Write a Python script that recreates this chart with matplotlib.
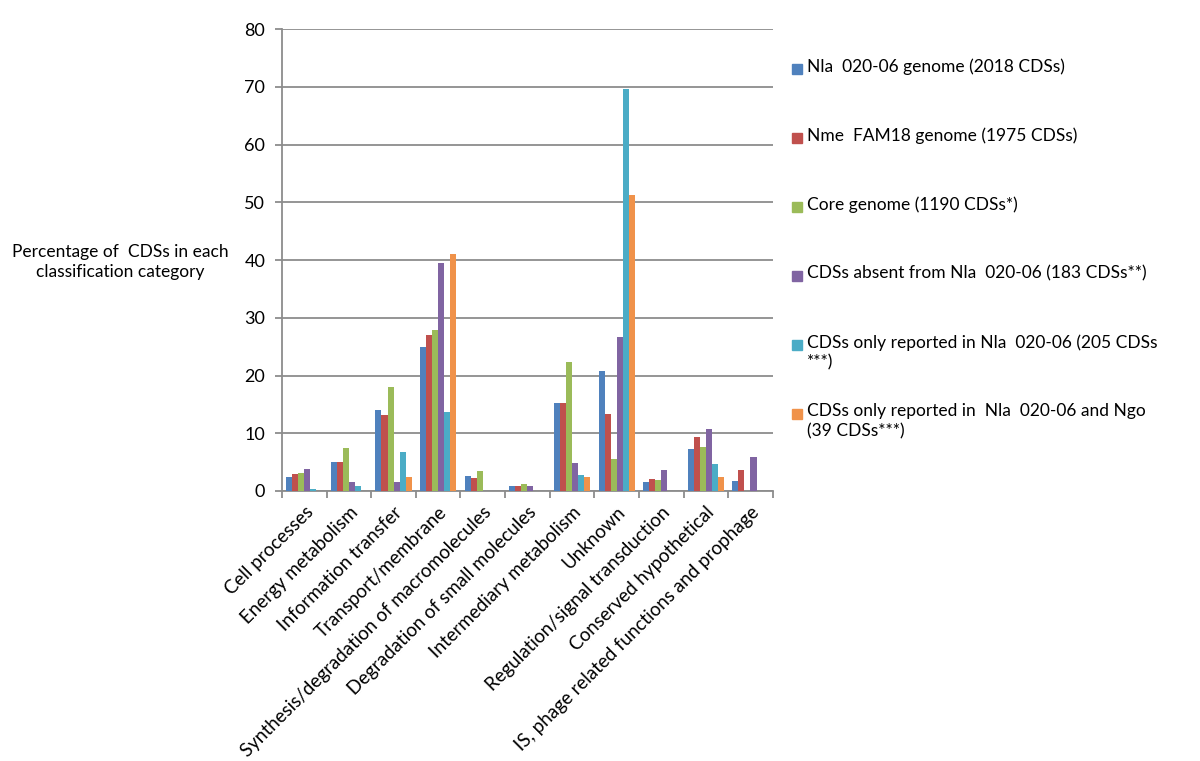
import matplotlib
matplotlib.use('Agg')
import matplotlib.pyplot as plt
import numpy as np
from matplotlib.patches import Rectangle

categories = ['Cell processes', 'Energy metabolism', 'Information transfer', 'Transport/membrane',
              'Synthesis/degradation of macromolecules', 'Degradation of small molecules',
              'Intermediary metabolism', 'Unknown', 'Regulation/signal transduction',
              'Conserved hypothetical', 'IS, phage related functions and prophage']

series_names = ['Nla  020-06 genome (2018 CDSs)',
                'Nme  FAM18 genome (1975 CDSs)',
                'Core genome (1190 CDSs*)',
                'CDSs absent from Nla  020-06 (183 CDSs**)',
                'CDSs only reported in Nla  020-06 (205 CDSs\n***)',
                'CDSs only reported in  Nla  020-06 and Ngo\n(39 CDSs***)']

nla_genome = [2.4, 5.0, 14.1, 24.9, 2.6, 0.8, 15.3, 20.8, 1.5, 7.3, 1.7]
nme_genome = [3.0, 5.0, 13.2, 27.1, 2.2, 0.9, 15.3, 13.4, 2.0, 9.4, 3.6]
core_genome = [3.2, 7.4, 18.0, 27.9, 3.4, 1.2, 22.3, 5.6, 1.9, 7.7, 0]
absent_nla = [3.8, 1.5, 1.5, 39.4, 0, 0.9, 4.8, 26.7, 3.7, 10.8, 5.9]
only_nla = [0.4, 0.9, 6.8, 13.6, 0, 0, 2.8, 69.7, 0, 4.7, 0]
only_nla_ngo = [0, 0, 2.5, 41.1, 0, 0, 2.4, 51.2, 0, 2.4, 0]

colors = ['#4F81BD', '#C0504D', '#9BBB59', '#8064A2', '#4BACC6', '#F0924A']

plt.rcParams['font.family'] = ['Lato', 'DejaVu Sans']

fig = plt.figure(figsize=(12, 7.61), dpi=100)
ax = fig.add_axes([0.235, 0.3548, 0.409, 0.607])

series = [nla_genome, nme_genome, core_genome, absent_nla, only_nla, only_nla_ngo]
x = np.arange(len(categories))
w = 0.135
for i, (vals, c) in enumerate(zip(series, colors)):
    ax.bar(x + (i - 2.5) * w, vals, w, color=c, zorder=3)

ax.set_xlim(-0.5, len(categories) - 0.5)
ax.set_ylim(0, 80)
ax.set_yticks(range(0, 81, 10))
ax.yaxis.grid(True, color='#8c8c8c', lw=1.3)
ax.set_axisbelow(True)
for s in ['top', 'right']:
    ax.spines[s].set_visible(False)
for s in ['left', 'bottom']:
    ax.spines[s].set_color('#8c8c8c')
    ax.spines[s].set_linewidth(1.3)

# tick marks at category boundaries, labels at centres
ax.set_xticks(np.arange(-0.5, len(categories), 1))
ax.set_xticklabels([])
ax.set_xticks(x, minor=True)
ax.set_xticklabels(categories, minor=True, rotation=45, ha='right', rotation_mode='anchor', fontsize=13.5)
ax.tick_params(axis='x', which='minor', length=0, pad=9)
ax.tick_params(axis='x', which='major', length=5, color='#8c8c8c', width=1.3)
ax.tick_params(axis='y', length=5, color='#8c8c8c', width=1.3, labelsize=13, pad=7)

fig.text(120 / 1200, 1 - 262 / 761, 'Percentage of  CDSs in each\nclassification category',
         ha='center', va='center', fontsize=12.5, linespacing=1.25)

# legend on the right, one entry every 69 px
for i, (name, c) in enumerate(zip(series_names, colors)):
    yc = 1 - (69 + 69 * i) / 761
    fig.patches.append(Rectangle((792 / 1200, yc - 5 / 761), 10 / 1200, 10 / 761,
                                 transform=fig.transFigure, color=c))
    fig.text(807 / 1200, yc + 11 / 761, name, ha='left', va='top', fontsize=12.5, linespacing=1.3)

fig.savefig('out.png', dpi=100)
